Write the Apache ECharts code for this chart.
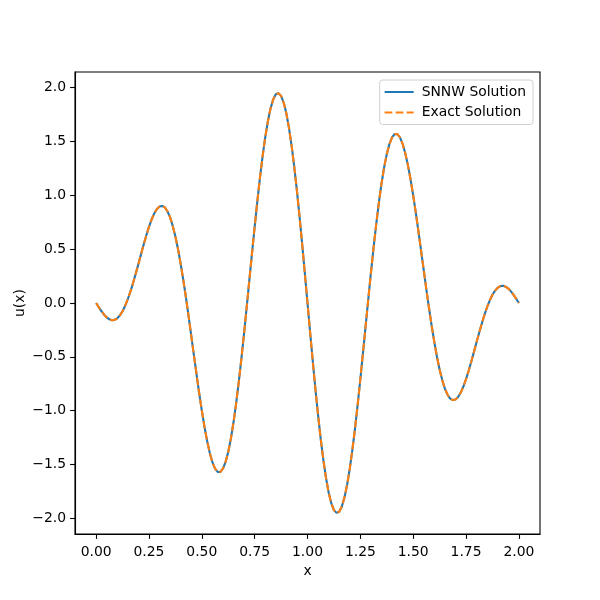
<!DOCTYPE html>
<html>
<head>
<meta charset="utf-8">
<script src="https://cdn.jsdelivr.net/npm/echarts@6/dist/echarts.min.js"></script>
<style>
html,body{margin:0;padding:0;background:#fff;}
#chart{width:600px;height:600px;}
</style>
</head>
<body>
<div id="chart"></div>
<script>
const xValues = [
  0, 0.0125, 0.025, 0.0375, 0.05, 0.0625, 0.075, 0.0875, 0.1, 0.1125,
  0.125, 0.1375, 0.15, 0.1625, 0.175, 0.1875, 0.2, 0.2125, 0.225, 0.2375,
  0.25, 0.2625, 0.275, 0.2875, 0.3, 0.3125, 0.325, 0.3375, 0.35, 0.3625,
  0.375, 0.3875, 0.4, 0.4125, 0.425, 0.4375, 0.45, 0.4625, 0.475, 0.4875,
  0.5, 0.5125, 0.525, 0.5375, 0.55, 0.5625, 0.575, 0.5875, 0.6, 0.6125,
  0.625, 0.6375, 0.65, 0.6625, 0.675, 0.6875, 0.7, 0.7125, 0.725, 0.7375,
  0.75, 0.7625, 0.775, 0.7875, 0.8, 0.8125, 0.825, 0.8375, 0.85, 0.8625,
  0.875, 0.8875, 0.9, 0.9125, 0.925, 0.9375, 0.95, 0.9625, 0.975, 0.9875,
  1.0, 1.0125, 1.025, 1.0375, 1.05, 1.0625, 1.075, 1.0875, 1.1, 1.1125,
  1.125, 1.1375, 1.15, 1.1625, 1.175, 1.1875, 1.2, 1.2125, 1.225, 1.2375,
  1.25, 1.2625, 1.275, 1.2875, 1.3, 1.3125, 1.325, 1.3375, 1.35, 1.3625,
  1.375, 1.3875, 1.4, 1.4125, 1.425, 1.4375, 1.45, 1.4625, 1.475, 1.4875,
  1.5, 1.5125, 1.525, 1.5375, 1.55, 1.5625, 1.575, 1.5875, 1.6, 1.6125,
  1.625, 1.6375, 1.65, 1.6625, 1.675, 1.6875, 1.7, 1.7125, 1.725, 1.7375,
  1.75, 1.7625, 1.775, 1.7875, 1.8, 1.8125, 1.825, 1.8375, 1.85, 1.8625,
  1.875, 1.8875, 1.9, 1.9125, 1.925, 1.9375, 1.95, 1.9625, 1.975, 1.9875,
  2.0];

const snnwValues = [
  0, -0.039, -0.076, -0.108, -0.134, -0.152, -0.160, -0.157, -0.142, -0.115,
  -0.076, -0.025, 0.037, 0.108, 0.188, 0.274, 0.363, 0.454, 0.544, 0.629,
  0.707, 0.776, 0.832, 0.873, 0.897, 0.902, 0.888, 0.852, 0.795, 0.716,
  0.617, 0.499, 0.363, 0.212, 0.049, -0.124, -0.303, -0.484, -0.663, -0.837,
  -1.000, -1.150, -1.281, -1.392, -1.479, -1.539, -1.569, -1.570, -1.539, -1.476,
  -1.383, -1.259, -1.108, -0.930, -0.731, -0.512, -0.279, -0.035, 0.214, 0.463,
  0.707, 0.942, 1.162, 1.362, 1.539, 1.688, 1.806, 1.890, 1.939, 1.950,
  1.924, 1.860, 1.760, 1.625, 1.458, 1.263, 1.042, 0.800, 0.542, 0.274,
  0, -0.274, -0.542, -0.800, -1.042, -1.263, -1.458, -1.625, -1.760, -1.860,
  -1.924, -1.950, -1.939, -1.890, -1.806, -1.688, -1.539, -1.362, -1.162, -0.942,
  -0.707, -0.463, -0.214, 0.035, 0.279, 0.512, 0.731, 0.930, 1.108, 1.259,
  1.383, 1.476, 1.539, 1.570, 1.569, 1.539, 1.479, 1.392, 1.281, 1.150,
  1.000, 0.837, 0.663, 0.484, 0.303, 0.124, -0.049, -0.212, -0.363, -0.499,
  -0.617, -0.716, -0.795, -0.852, -0.888, -0.902, -0.897, -0.873, -0.832, -0.776,
  -0.707, -0.629, -0.544, -0.454, -0.363, -0.274, -0.188, -0.108, -0.037, 0.025,
  0.076, 0.115, 0.142, 0.157, 0.160, 0.152, 0.134, 0.108, 0.076, 0.039,
  0];

const exactValues = [
  0, -0.039, -0.076, -0.108, -0.134, -0.152, -0.160, -0.157, -0.142, -0.115,
  -0.076, -0.025, 0.037, 0.108, 0.188, 0.274, 0.363, 0.454, 0.544, 0.629,
  0.707, 0.776, 0.832, 0.873, 0.897, 0.902, 0.888, 0.852, 0.795, 0.716,
  0.617, 0.499, 0.363, 0.212, 0.049, -0.124, -0.303, -0.484, -0.663, -0.837,
  -1.000, -1.150, -1.281, -1.392, -1.479, -1.539, -1.569, -1.570, -1.539, -1.476,
  -1.383, -1.259, -1.108, -0.930, -0.731, -0.512, -0.279, -0.035, 0.214, 0.463,
  0.707, 0.942, 1.162, 1.362, 1.539, 1.688, 1.806, 1.890, 1.939, 1.950,
  1.924, 1.860, 1.760, 1.625, 1.458, 1.263, 1.042, 0.800, 0.542, 0.274,
  0, -0.274, -0.542, -0.800, -1.042, -1.263, -1.458, -1.625, -1.760, -1.860,
  -1.924, -1.950, -1.939, -1.890, -1.806, -1.688, -1.539, -1.362, -1.162, -0.942,
  -0.707, -0.463, -0.214, 0.035, 0.279, 0.512, 0.731, 0.930, 1.108, 1.259,
  1.383, 1.476, 1.539, 1.570, 1.569, 1.539, 1.479, 1.392, 1.281, 1.150,
  1.000, 0.837, 0.663, 0.484, 0.303, 0.124, -0.049, -0.212, -0.363, -0.499,
  -0.617, -0.716, -0.795, -0.852, -0.888, -0.902, -0.897, -0.873, -0.832, -0.776,
  -0.707, -0.629, -0.544, -0.454, -0.363, -0.274, -0.188, -0.108, -0.037, 0.025,
  0.076, 0.115, 0.142, 0.157, 0.160, 0.152, 0.134, 0.108, 0.076, 0.039,
  0];

const xTicks = [0, 0.25, 0.5, 0.75, 1.0, 1.25, 1.5, 1.75, 2.0];
const yTicks = [-2.0, -1.5, -1.0, -0.5, 0.0, 0.5, 1.0, 1.5, 2.0];
const seriesNames = ['SNNW Solution', 'Exact Solution'];

const FONT = 'DejaVu Sans';
const fmt = (v, d) => {
  const s = Math.abs(v).toFixed(d);
  return v < -1e-9 ? '\u2212' + s : s;
};

const chart = echarts.init(document.getElementById('chart'), null, {renderer: 'canvas'});
chart.setOption({
  animation: false,
  backgroundColor: '#ffffff',
  grid: {
    left: 75, right: 60, top: 72, bottom: 66,
    show: true, borderColor: '#000', borderWidth: 1.1,
    containLabel: false, outerBoundsMode: 'none'
  },
  legend: {
    orient: 'vertical',
    right: 67, top: 80,
    data: seriesNames,
    itemWidth: 29, itemHeight: 14, itemGap: 6.5,
    padding: [5, 7, 5, 4],
    backgroundColor: '#fff',
    borderColor: '#d0d0d0', borderWidth: 1, borderRadius: 3,
    itemStyle: {opacity: 0, borderWidth: 0},
    textStyle: {fontFamily: FONT, fontSize: 13.9, color: '#000', padding: [0, 0, 0, 3]}
  },
  xAxis: {
    type: 'value', min: -0.1, max: 2.1,
    name: 'x', nameLocation: 'middle', nameGap: 30, nameMoveOverlap: false,
    nameTextStyle: {fontFamily: FONT, fontSize: 13.9, color: '#000'},
    axisLine: {show: true, onZero: false, lineStyle: {color: '#000', width: 1.1}},
    axisTick: {show: true, inside: false, length: 4.9, customValues: xTicks, lineStyle: {color: '#000', width: 1.1}},
    axisLabel: {show: true, margin: 11, customValues: xTicks, fontFamily: FONT, fontSize: 13.9, color: '#000',
      formatter: v => fmt(v, 2)},
    splitLine: {show: false}
  },
  yAxis: {
    type: 'value', min: -2.146, max: 2.146,
    name: 'u(x)', nameLocation: 'middle', nameGap: 48, nameRotate: 90, nameMoveOverlap: false,
    nameTextStyle: {fontFamily: FONT, fontSize: 13.9, color: '#000'},
    axisLine: {show: true, onZero: false, lineStyle: {color: '#000', width: 1.1}},
    axisTick: {show: true, inside: false, length: 4.9, customValues: yTicks, lineStyle: {color: '#000', width: 1.1}},
    axisLabel: {show: true, margin: 9, customValues: yTicks, fontFamily: FONT, fontSize: 13.9, color: '#000',
      padding: [3, 0, 0, 0], formatter: v => fmt(v, 1)},
    splitLine: {show: false}
  },
  series: [
    {
      name: seriesNames[0], type: 'line', showSymbol: false, symbol: 'none', smooth: false,
      data: xValues.map((x, i) => [x, snnwValues[i]]),
      lineStyle: {color: '#1f77b4', width: 2.08, type: 'solid'},
      itemStyle: {color: '#1f77b4'},
      z: 2
    },
    {
      name: seriesNames[1], type: 'line', showSymbol: false, symbol: 'none', smooth: false,
      data: xValues.map((x, i) => [x, exactValues[i]]),
      lineStyle: {color: '#ff7f0e', width: 2.08, type: [7.7, 3.3]},
      itemStyle: {color: '#ff7f0e'},
      z: 3
    }
  ]
});
</script>
</body>
</html>
